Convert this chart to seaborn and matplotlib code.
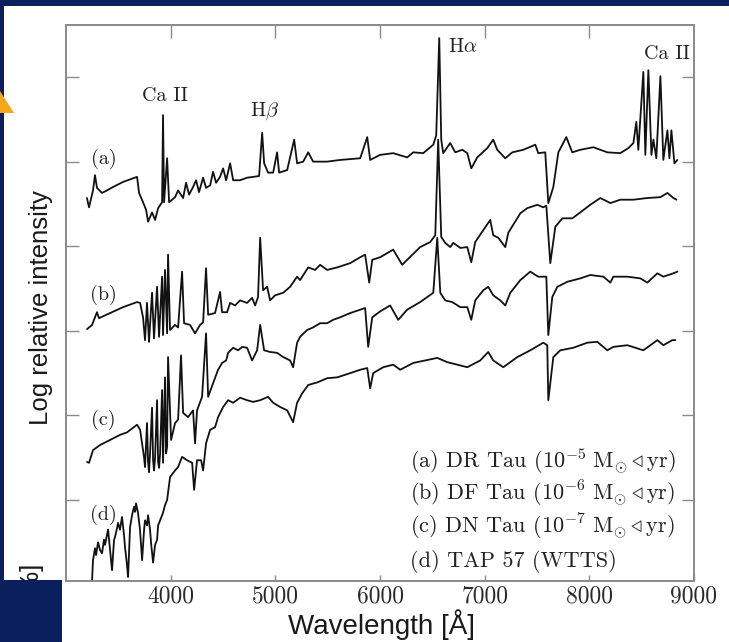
import matplotlib
matplotlib.use("Agg")
import matplotlib.pyplot as plt
import seaborn as sns
import pandas as pd
from matplotlib.patches import Rectangle, Polygon

# ---------------- data ----------------
wl_a = [3200, 3220, 3258, 3277, 3296, 3344, 3392, 3449, 3545, 3679,
        3698, 3736, 3765, 3784, 3822, 3851, 3880, 3918, 3927, 3937,
        3966, 3985, 4042, 4071, 4119, 4147, 4176, 4214, 4243, 4271,
        4310, 4338, 4377, 4405, 4434, 4472, 4501, 4530, 4568, 4597,
        4663, 4730, 4788, 4845, 4874, 4893, 4931, 4979, 5017, 5036,
        5113, 5180, 5208, 5266, 5314, 5361, 5495, 5619, 5811, 5878,
        5906, 6002, 6126, 6260, 6317, 6413, 6509, 6537, 6566, 6585,
        6604, 6671, 6719, 6786, 6834, 6872, 6929, 7025, 7082, 7120,
        7197, 7264, 7369, 7484, 7512, 7579, 7608, 7656, 7704, 7780,
        7837, 7914, 8038, 8172, 8296, 8373, 8421, 8449, 8468, 8516,
        8535, 8564, 8593, 8612, 8640, 8679, 8707, 8746, 8765, 8784,
        8813, 8841]
int_a = [3.57, 3.46, 3.66, 3.84, 3.69, 3.63, 3.66, 3.70, 3.76, 3.82,
         3.63, 3.52, 3.43, 3.29, 3.40, 3.31, 3.45, 3.52, 4.55, 3.52,
         4.04, 3.52, 3.58, 3.66, 3.57, 3.75, 3.61, 3.70, 3.78, 3.64,
         3.81, 3.69, 3.72, 3.88, 3.75, 3.82, 3.92, 3.78, 3.98, 3.78,
         3.78, 3.81, 3.82, 3.83, 4.34, 3.98, 3.87, 3.87, 4.11, 3.87,
         3.90, 4.26, 3.98, 4.00, 4.11, 4.00, 4.00, 4.02, 4.04, 4.29,
         4.02, 4.08, 4.10, 4.05, 4.11, 4.10, 4.20, 4.31, 5.46, 4.26,
         4.10, 4.22, 4.11, 4.14, 4.10, 3.92, 4.05, 4.16, 4.26, 4.14,
         4.04, 4.11, 4.14, 4.20, 4.10, 4.11, 3.51, 3.70, 4.11, 4.29,
         4.11, 4.14, 4.17, 4.11, 4.10, 4.16, 4.22, 4.47, 4.14, 5.06,
         4.08, 5.08, 4.08, 4.26, 4.04, 5.01, 4.02, 4.37, 4.04, 4.37,
         3.98, 4.02]

wl_b = [3201, 3249, 3277, 3296, 3315, 3421, 3545, 3679, 3708, 3736,
        3755, 3774, 3793, 3822, 3841, 3870, 3889, 3918, 3927, 3946,
        3966, 3975, 3994, 4042, 4071, 4109, 4128, 4185, 4233, 4281,
        4310, 4338, 4358, 4424, 4472, 4491, 4539, 4568, 4616, 4663,
        4730, 4778, 4807, 4835, 4855, 4883, 4922, 4950, 4998, 5075,
        5141, 5208, 5237, 5314, 5380, 5428, 5495, 5591, 5715, 5811,
        5858, 5897, 5926, 6002, 6126, 6212, 6260, 6384, 6480, 6528,
        6556, 6585, 6623, 6671, 6700, 6767, 6834, 6872, 6910, 6987,
        7053, 7082, 7130, 7197, 7226, 7341, 7407, 7503, 7560, 7589,
        7627, 7675, 7742, 7837, 7914, 8009, 8105, 8201, 8296, 8421,
        8554, 8679, 8746, 8803, 8832]
int_b = [2.02, 2.07, 2.16, 2.22, 2.15, 2.21, 2.28, 2.34, 2.33, 2.16,
         1.89, 2.33, 1.87, 2.45, 1.91, 2.52, 1.93, 2.64, 1.95, 2.72,
         1.97, 2.90, 2.01, 2.07, 2.04, 2.70, 2.09, 2.07, 1.97, 2.07,
         2.10, 2.74, 2.19, 2.21, 2.46, 2.22, 2.22, 2.33, 2.30, 2.36,
         2.33, 2.39, 2.30, 2.40, 3.10, 2.48, 2.52, 2.36, 2.42, 2.45,
         2.52, 2.64, 2.60, 2.75, 2.72, 2.78, 2.72, 2.75, 2.80, 2.87,
         2.90, 2.57, 2.84, 2.87, 2.96, 2.78, 2.84, 2.99, 3.05, 3.13,
         4.26, 3.11, 3.04, 2.99, 3.04, 2.98, 2.99, 2.81, 3.05, 3.19,
         3.31, 3.13, 3.10, 2.99, 3.16, 3.39, 3.45, 3.49, 3.46, 3.48,
         2.80, 3.23, 3.33, 3.33, 3.40, 3.49, 3.57, 3.51, 3.55, 3.55,
         3.57, 3.58, 3.63, 3.57, 3.55]

wl_c = [3201, 3220, 3258, 3325, 3421, 3516, 3583, 3679, 3708, 3736,
        3746, 3755, 3774, 3784, 3793, 3803, 3822, 3832, 3841, 3851,
        3870, 3880, 3889, 3899, 3918, 3927, 3946, 3956,
        3966, 3975, 4004, 4042, 4071, 4099, 4119, 4166, 4214, 4233,
        4252, 4300, 4338, 4358, 4405, 4453, 4491, 4530, 4549, 4597,
        4644, 4683, 4730, 4778, 4826, 4855, 4893, 4950, 5017, 5075,
        5141, 5170, 5208, 5237, 5304, 5361, 5428, 5495, 5552, 5619,
        5715, 5811, 5858, 5887, 5926, 6002, 6097, 6174, 6260, 6384,
        6509, 6547, 6576, 6623, 6690, 6767, 6834, 6872, 6910, 6987,
        7034, 7082, 7149, 7197, 7245, 7341, 7436, 7512, 7589, 7608,
        7646, 7694, 7790, 7914, 8009, 8134, 8201, 8229, 8363, 8488,
        8554, 8650, 8707, 8803, 8841]
int_c = [0.45, 0.44, 0.59, 0.65, 0.71, 0.77, 0.80, 0.89, 0.83, 0.59,
         0.50, 0.39, 0.91, 0.45, 0.33, 0.55, 1.09, 0.47, 0.35, 0.50,
         1.18, 0.45, 0.38, 0.55, 1.30, 0.44, 1.45, 0.55,
         0.63, 1.69, 0.71, 0.91, 0.95, 1.71, 1.03, 0.98, 1.06, 0.67,
         1.06, 1.22, 1.97, 1.22, 1.38, 1.54, 1.62, 1.65, 1.74, 1.80,
         1.77, 1.81, 1.80, 1.65, 1.77, 2.07, 1.77, 1.75, 1.74, 1.69,
         1.65, 1.57, 1.86, 1.93, 2.01, 2.04, 2.09, 2.09, 2.13, 2.16,
         2.21, 2.25, 2.27, 1.81, 2.16, 2.23, 2.30, 2.13, 2.25, 2.34,
         2.45, 3.10, 2.45, 2.36, 2.34, 2.28, 2.28, 2.13, 2.36, 2.48,
         2.52, 2.42, 2.36, 2.30, 2.45, 2.60, 2.70, 2.64, 2.64, 1.95,
         2.40, 2.52, 2.58, 2.62, 2.66, 2.64, 2.57, 2.64, 2.64, 2.62,
         2.57, 2.68, 2.64, 2.68, 2.70]

wl_d = [3249, 3258, 3277, 3287, 3306, 3325, 3344, 3363, 3373, 3392,
        3402, 3421, 3440, 3459, 3468, 3488, 3497, 3516, 3535, 3554,
        3564, 3583, 3593, 3612, 3631, 3650, 3660, 3669, 3688, 3707,
        3727, 3746, 3755, 3774, 3784, 3803, 3813, 3832, 3851, 3870,
        3880, 3899, 3918, 3927, 3946, 3966,
        3994, 4042, 4071, 4109,
        4157, 4205, 4224, 4252, 4291, 4310, 4338, 4377, 4424, 4453,
        4501, 4549, 4597, 4663, 4730, 4788, 4855, 4931, 4979, 5046,
        5113, 5170, 5208, 5256, 5314, 5400, 5495, 5591, 5715, 5811,
        5878, 5906, 5935, 6031, 6126, 6193, 6317, 6547, 6642, 6834,
        6958, 7034, 7082, 7178, 7312, 7436, 7560, 7598, 7608, 7656,
        7723, 7847, 7981, 8076, 8172, 8229, 8363, 8516, 8650, 8707,
        8793, 8822]
int_d = [-0.95, -0.71, -0.57, -0.65, -0.50, -0.59, -0.63, -0.47, -0.53, -0.41,
         -0.35, -0.59, -0.83, -0.47, -0.44, -0.33, -0.27, -0.35, -0.20, -0.41,
         -0.56, -0.77, -0.91, -0.32, -0.18, -0.08, -0.14, -0.04, -0.15, -0.35,
         -0.71, -0.35, -0.24, -0.30, -0.18, -0.35, -0.51, -0.74, -0.53, -0.47,
         -0.30, -0.24, -0.18, -0.15, -0.06, 0.00,
         0.27, 0.35, 0.39, 0.51,
         0.47, 0.44, 0.12, 0.47, 0.47, 0.35, 0.67, 0.83, 0.86, 0.98,
         1.10, 1.18, 1.15, 1.21, 1.18, 1.16, 1.18, 1.22, 1.15, 1.10,
         1.06, 0.92, 1.15, 1.26, 1.36, 1.39, 1.44, 1.45, 1.50, 1.54,
         1.56, 1.32, 1.50, 1.57, 1.60, 1.54, 1.62, 1.68, 1.63, 1.57,
         1.65, 1.75, 1.65, 1.57, 1.69, 1.77, 1.86, 1.83, 1.18, 1.69,
         1.77, 1.80, 1.86, 1.87, 1.77, 1.81, 1.83, 1.77, 1.89, 1.83,
         1.89, 1.89]

curve_labels = ["(a)", "(b)", "(c)", "(d)"]
legend_lines = [r"(a) DR Tau ($10^{-5}\ \mathrm{M}_{\odot}\triangleleft$yr)",
                r"(b) DF Tau ($10^{-6}\ \mathrm{M}_{\odot}\triangleleft$yr)",
                r"(c) DN Tau ($10^{-7}\ \mathrm{M}_{\odot}\triangleleft$yr)",
                "(d) TAP 57 (WTTS)"]
line_names = ["Ca II", r"H$\beta$", r"H$\alpha$", "Ca II"]
x_ticks = [4000, 5000, 6000, 7000, 8000, 9000]
y_ticks = [0, 1, 2, 3, 4, 5]

# ---------------- style ----------------
sns.set_theme(style="white")
plt.rcParams['font.family'] = ['cmr10', 'DejaVu Serif']
plt.rcParams['mathtext.fontset'] = 'cm'
plt.rcParams['axes.unicode_minus'] = False
plt.rcParams['axes.formatter.use_mathtext'] = True

W, H = 729, 642
fig = plt.figure(figsize=(W / 100, H / 100), dpi=100)
fig.patch.set_facecolor("white")

ax = fig.add_axes([66 / W, 1 - 581 / H, (694 - 66) / W, (581 - 25) / H])
ax.set_facecolor("white")

frames = []
for name, wl, val in zip(curve_labels, [wl_a, wl_b, wl_c, wl_d],
                         [int_a, int_b, int_c, int_d]):
    frames.append(pd.DataFrame({"wl": wl, "val": val, "star": name}))
df = pd.concat(frames, ignore_index=True)
for name in curve_labels:
    sub = df[df.star == name]
    sns.lineplot(data=sub, x="wl", y="val", ax=ax, color="#111111",
                 linewidth=1.3, sort=False, estimator=None, legend=False)

ax.set_xlim(3000, 9000)
ax.set_ylim(-0.957, 5.615)
ax.set_xlabel("")
ax.set_ylabel("")
ax.set_xticks(x_ticks)
ax.set_xticklabels([str(t) for t in x_ticks], fontsize=17, color="#2a2a2a")
ax.set_yticks(y_ticks)
ax.set_yticklabels([])
gray = "#8a8a8a"
for s in ax.spines.values():
    s.set_color(gray)
    s.set_linewidth(1.4)
    s.set_visible(True)
ax.tick_params(axis="y", which="both", direction="in", length=9, width=1.0,
               color=gray, left=True, right=True)
ax.tick_params(axis="x", which="both", direction="in", length=4, width=1.0,
               color=gray, bottom=True, top=False, pad=3)
sec = ax.secondary_xaxis("top")
sec.set_xticks(x_ticks[:-1])
sec.set_xticklabels([])
sec.tick_params(direction="in", length=9, width=1.0, color=gray)
sec.spines["top"].set_visible(False)

# curve labels
lab_pos = [(3360, 4.03), (3360, 2.42), (3360, 0.95), (3360, -0.18)]
for t, (x, y) in zip(curve_labels, lab_pos):
    ax.text(x, y, t, fontsize=14.5, ha="center", va="center", color="#222222")

# line identifications
name_pos = [(3950, 4.78), (4900, 4.59), (6790, 5.35), (8740, 5.27)]
for t, (x, y) in zip(line_names, name_pos):
    ax.text(x, y, t, fontsize=14.5, ha="center", va="center", color="#222222")

# legend-like text block
leg_y = [0.465, 0.075, -0.32, -0.73]
for t, y in zip(legend_lines, leg_y):
    ax.text(6290, y, t, fontsize=16, ha="left", va="center", color="#222222")

# axis labels (slide fonts)
fig.text(41 / W, 1 - 308 / H, "Log relative intensity", rotation=90,
         ha="center", va="center", fontsize=18.5, color="#1a1a1a",
         family=["Liberation Sans", "DejaVu Sans"])
fig.text(382 / W, 1 - 625 / H, "Wavelength [Å]", ha="center", va="center",
         fontsize=20, color="#1a1a1a", family=["Liberation Sans", "DejaVu Sans"])
fig.text(30 / W, 1 - 562 / H, "[%]", rotation=90, ha="center", va="top",
         fontsize=18.5, color="#1a1a1a", family=["Liberation Sans", "DejaVu Sans"],
         zorder=2)

# slide background pieces
navy = "#0a1f5c"
fig.add_artist(Rectangle((0, 1 - 6 / H), 1, 6 / H, transform=fig.transFigure,
                         color=navy, zorder=10, lw=0))
fig.add_artist(Rectangle((0, 0), 4 / W, 1, transform=fig.transFigure,
                         color=navy, zorder=10, lw=0))
fig.add_artist(Rectangle((0, 0), 62 / W, 1 - 580 / H, transform=fig.transFigure,
                         color=navy, zorder=10, lw=0))
fig.add_artist(Polygon([(0, 1 - 91 / H), (14 / W, 1 - 113 / H), (0, 1 - 113 / H)],
                       closed=True, transform=fig.transFigure, color="#f6a81a",
                       zorder=11, lw=0))

fig.savefig("out.png", dpi=100, facecolor=fig.get_facecolor())
